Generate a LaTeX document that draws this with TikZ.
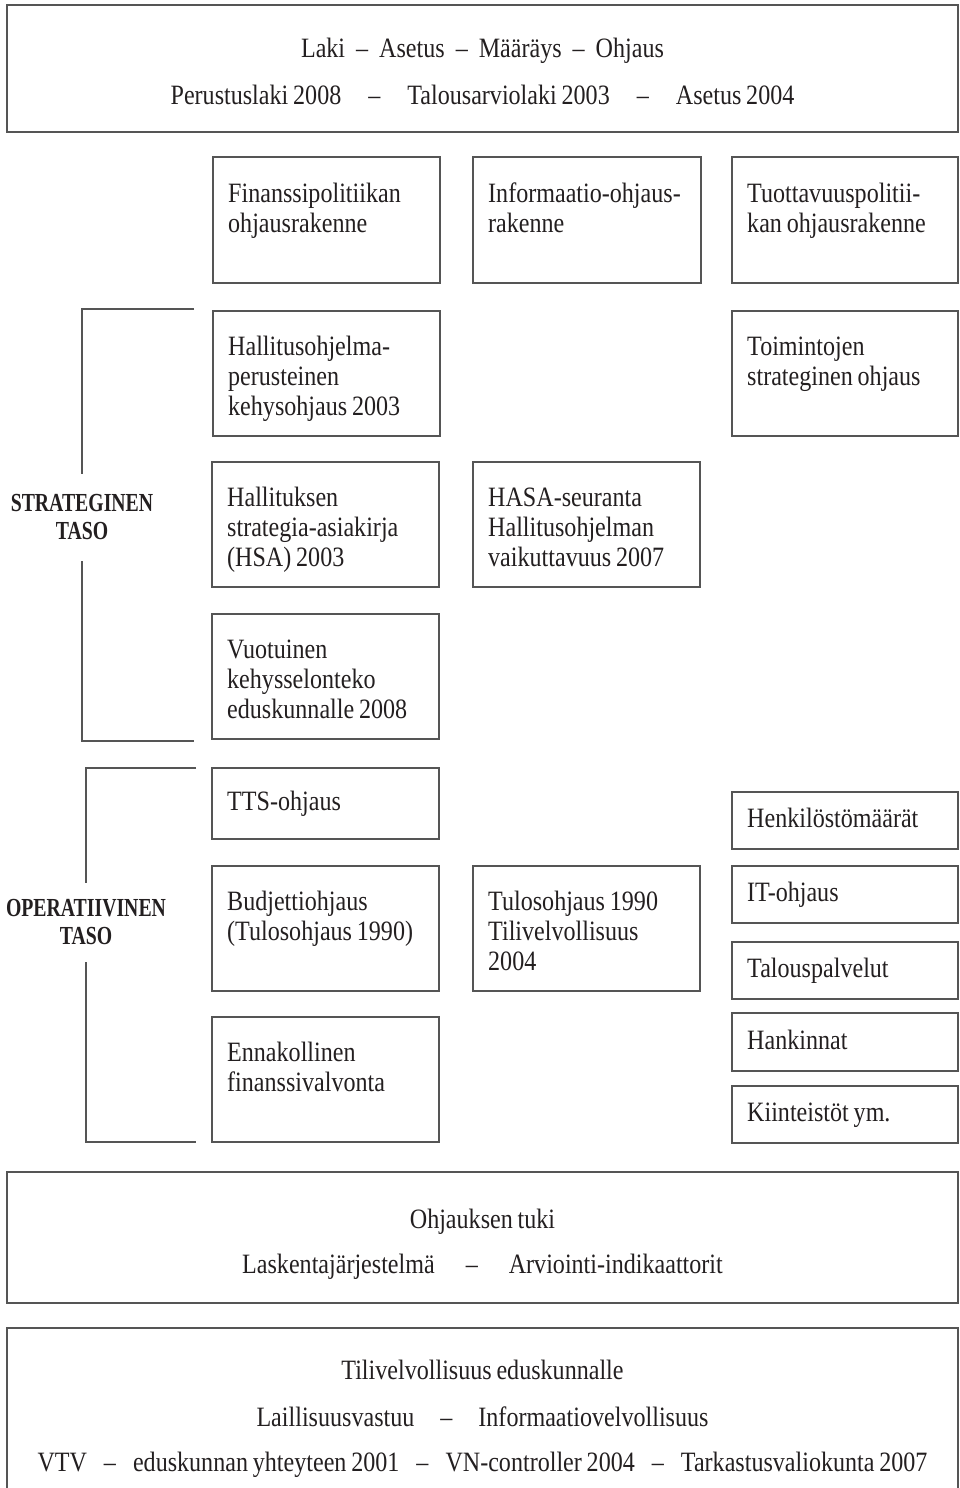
\documentclass[tikz,border=0pt]{standalone}
\usepackage{fontspec}
\setmainfont{Liberation Serif}[FakeStretch=0.86, WordSpace=0.8]
\newfontfamily\capsfont{Liberation Serif}[FakeStretch=0.76]
\usetikzlibrary{calc}
\definecolor{ink}{HTML}{231F20}
\definecolor{linegray}{HTML}{555555}
\newcommand\sep[1]{\hspace{#1}--\hspace{#1}}
\begin{document}
\begin{tikzpicture}[
  x=1pt, y=-1pt,
  frame/.style={draw=linegray, line width=1.2pt, inner sep=0pt, outer sep=0pt, anchor=north west},
  txt/.style={inner sep=0pt, anchor=base west, align=flush left, text width=210pt,
              font=\fontsize{28}{30}\selectfont, text=ink},
  ctr/.style={inner sep=0pt, anchor=base, font=\fontsize{28}{30}\selectfont, text=ink},
  lvl/.style={inner sep=0pt, align=center, text=ink,
              font=\capsfont\bfseries\fontsize{26}{28}\selectfont},
  bracket/.style={draw=linegray, line width=1.6pt}
]
\useasboundingbox[fill=white] (0,0) rectangle (959,1488);

% --- frames: name, left, top, width, height
\newcommand\bx[5]{\node[frame, minimum width=#4pt, minimum height=#5pt] (#1) at (#2,#3) {};}
\bx{lakibox}{7}{5}{951}{127}
\bx{fin}{213}{157}{227}{126}
\bx{info}{473}{157}{228}{126}
\bx{tuot}{732}{157}{226}{126}
\bx{hko}{213}{311}{227}{125}
\bx{toim}{732}{311}{226}{125}
\bx{hsa}{212}{462}{227}{125}
\bx{hasa}{473}{462}{227}{125}
\bx{vuo}{212}{614}{227}{125}
\bx{tts}{212}{768}{227}{71}
\bx{bud}{212}{866}{227}{125}
\bx{tulos}{473}{866}{227}{125}
\bx{enn}{212}{1017}{227}{125}
\bx{henk}{732}{792}{226}{57}
\bx{itb}{732}{866}{226}{57}
\bx{talp}{732}{942}{226}{57}
\bx{hank}{732}{1013}{226}{58}
\bx{kiin}{732}{1086}{226}{57}
\bx{tuki}{7}{1172}{951}{131}
\bx{tili}{7}{1328}{951}{170}

% --- top-aligned texts in the tall boxes
\node[txt] (fin-t)   at ($(fin.north west)+(15,45)$)   {Finanssipolitiikan\\ohjausrakenne};
\node[txt] (info-t)  at ($(info.north west)+(15,45)$)  {Informaatio-ohjaus-\\rakenne};
\node[txt] (tuot-t)  at ($(tuot.north west)+(15,45)$)  {Tuottavuuspolitii-\\kan ohjausrakenne};
\node[txt] (hko-t)   at ($(hko.north west)+(15,44)$)   {Hallitusohjelma-\\perusteinen\\kehysohjaus 2003};
\node[txt] (toim-t)  at ($(toim.north west)+(15,44)$)  {Toimintojen\\strateginen ohjaus};
\node[txt] (hsa-t)   at ($(hsa.north west)+(15,44)$)   {Hallituksen\\strategia-asiakirja\\(HSA) 2003};
\node[txt] (hasa-t)  at ($(hasa.north west)+(15,44)$)  {HASA-seuranta\\Hallitusohjelman\\vaikuttavuus 2007};
\node[txt] (vuo-t)   at ($(vuo.north west)+(15,44)$)   {Vuotuinen\\kehysselonteko\\eduskunnalle 2008};
\node[txt] (bud-t)   at ($(bud.north west)+(15,44)$)   {Budjettiohjaus\\(Tulosohjaus 1990)};
\node[txt] (tulos-t) at ($(tulos.north west)+(15,44)$) {Tulosohjaus 1990\\Tilivelvollisuus\\2004};
\node[txt] (enn-t)   at ($(enn.north west)+(15,44)$)   {Ennakollinen\\finanssivalvonta};

% --- one-line boxes, text centred vertically
\node[txt] (tts-t)  at ($(tts.west)+(15,7)$)  {TTS-ohjaus};
\node[txt] (henk-t) at ($(henk.west)+(15,7)$) {Henkilöstömäärät};
\node[txt] (itb-t)  at ($(itb.west)+(15,7)$)  {IT-ohjaus};
\node[txt] (talp-t) at ($(talp.west)+(15,7)$) {Talouspalvelut};
\node[txt] (hank-t) at ($(hank.west)+(15,7)$) {Hankinnat};
\node[txt] (kiin-t) at ($(kiin.west)+(15,7)$) {Kiinteistöt ym.};

% --- wide boxes with centred lines
\node[ctr] (laki-1) at (482.5,58)  {Laki\sep{11pt}Asetus\sep{11pt}Määräys\sep{11pt}Ohjaus};
\node[ctr] (laki-2) at (482.5,104) {Perustuslaki 2008\sep{27pt}Talousarviolaki 2003\sep{27pt}Asetus 2004};
\node[ctr] (tuki-1) at (482.5,1228) {Ohjauksen tuki};
\node[ctr] (tuki-2) at (482.5,1273) {Laskentajärjestelmä\sep{31pt}Arviointi-indikaattorit};
\node[ctr] (tili-1) at (482.5,1379) {Tilivelvollisuus eduskunnalle};
\node[ctr] (tili-2) at (482.5,1426) {Laillisuusvastuu\sep{26pt}Informaatiovelvollisuus};
\node[ctr] (tili-3) at (482.5,1471) {VTV\sep{17pt}eduskunnan yhteyteen 2001\sep{17pt}VN-controller 2004\sep{17pt}Tarkastusvaliokunta 2007};

% --- level labels with their brackets
\node[lvl, minimum height=87pt] (strat) at (82,517.5) {STRATEGINEN\\TASO};
\node[lvl, minimum height=79pt] (oper)  at (86,922.5) {OPERATIIVINEN\\TASO};
\coordinate (strat-top) at (194,309);
\coordinate (strat-bot) at (194,741);
\coordinate (oper-top)  at (196,768);
\coordinate (oper-bot)  at (196,1142);
\draw[bracket] (strat-top) -| (strat.north);
\draw[bracket] (strat.south) |- (strat-bot);
\draw[bracket] (oper-top) -| (oper.north);
\draw[bracket] (oper.south) |- (oper-bot);
\end{tikzpicture}
\end{document}
